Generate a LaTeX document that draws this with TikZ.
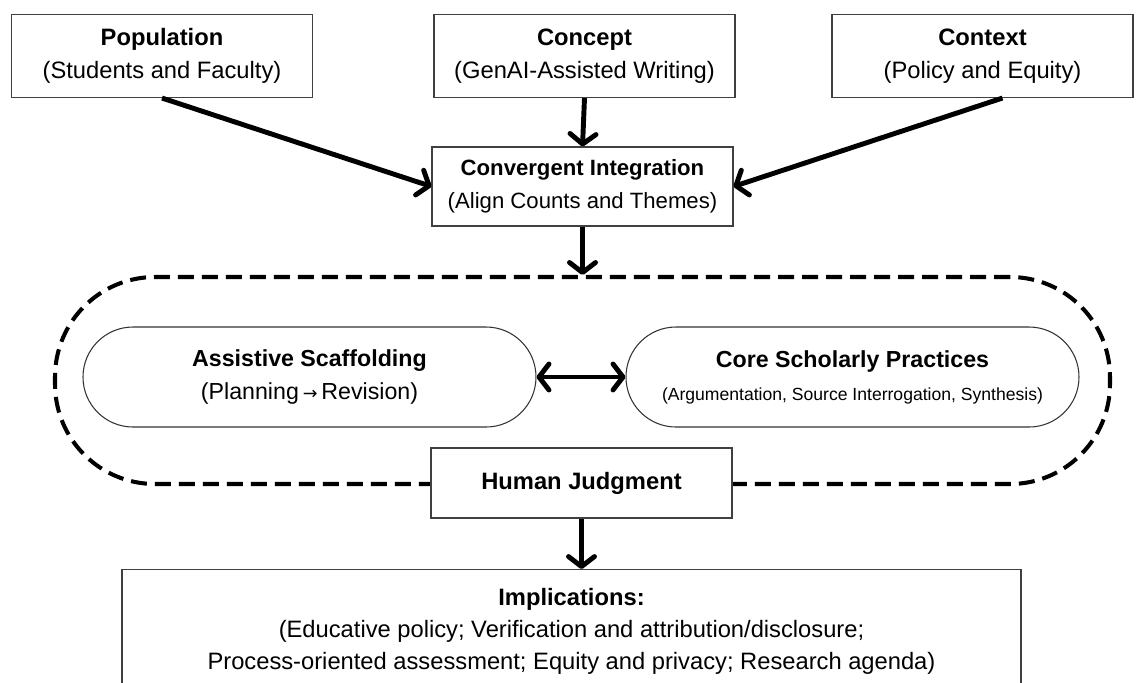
\documentclass[tikz,border=0pt]{standalone}
\usepackage{fontspec}
\setmainfont{Liberation Sans}
\newfontfamily\arrowfont{DejaVu Sans}
\usetikzlibrary{arrows.meta}

\begin{document}
\begin{tikzpicture}[
  >={Straight Barb[length=2mm,width=5.2mm,line cap=round,line join=round]},
  box/.style={draw=black!75, line width=0.6pt, fill=white, minimum width=6.02cm,
    align=center, font=\fontsize{13.5}{18.7}\selectfont},
  pill/.style={draw=black!80, line width=0.6pt, fill=white, rounded corners=1cm,
    minimum width=9.06cm, minimum height=2cm, align=center},
  flow/.style={line width=2.8pt, ->}
]
  \clip (0,0) rectangle (22.88,-13.64);
  % top row
  \node[box, minimum height=1.66cm] (pop) at (3.24,-1.12) {\textbf{Population}\\(Students and Faculty)};
  \node[box, minimum height=1.66cm] (con) at (11.69,-1.12) {\textbf{Concept}\\(GenAI-Assisted Writing)};
  \node[box, minimum height=1.66cm] (ctx) at (19.65,-1.12) {\textbf{Context}\\(Policy and Equity)};
  \node[box, minimum height=1.58cm, font=\fontsize{12.6}{18.7}\selectfont] (ci) at (11.65,-3.73)
    {\textbf{Convergent Integration}\\(Align Counts and Themes)};

  % dashed loop and the two practices
  \node[draw, line width=2.3pt, dash pattern=on 0.32cm off 0.16cm, rounded corners=2cm,
    minimum width=21.1cm, minimum height=4.14cm] (loop) at (11.65,-7.61) {};
  \node[pill, font=\fontsize{13.2}{18.7}\selectfont] (as) at (6.19,-7.54)
    {\textbf{Assistive Scaffolding}\\(Planning\,{\arrowfont\fontsize{10}{10}\selectfont →}\,Revision)};
  \node[pill, font=\fontsize{13.2}{18.7}\selectfont] (csp) at (17.05,-7.54)
    {\textbf{Core Scholarly Practices}\\{\fontsize{10}{14}\selectfont(Argumentation, Source Interrogation, Synthesis)}};
  \node[box, minimum height=1.4cm] (hj) at (11.63,-9.66) {\textbf{Human Judgment}};

  % implications
  \node[box, anchor=north, minimum width=17.98cm, minimum height=3cm] (impl) at (11.43,-11.38) {};
  \node[anchor=north, align=center, font=\fontsize{13.5}{18.2}\selectfont] (impltext) at ([yshift=-0.26cm]impl.north)
    {\textbf{Implications:}\\(Educative policy; Verification and attribution/disclosure;\\Process-oriented assessment; Equity and privacy; Research agenda)};

  % arrows
  \draw[flow] (pop.south) -- (ci.west);
  \draw[flow] (con.south) -- (ci.north);
  \draw[flow] ([xshift=4mm]ctx.south) -- (ci.east);
  \draw[flow] (ci.south) -- (ci.south |- loop.north);
  \draw[flow, <->] (as.east) -- (csp.west);
  \draw[flow] (hj.south) -- (hj.south |- impl.north);
\end{tikzpicture}
\end{document}
